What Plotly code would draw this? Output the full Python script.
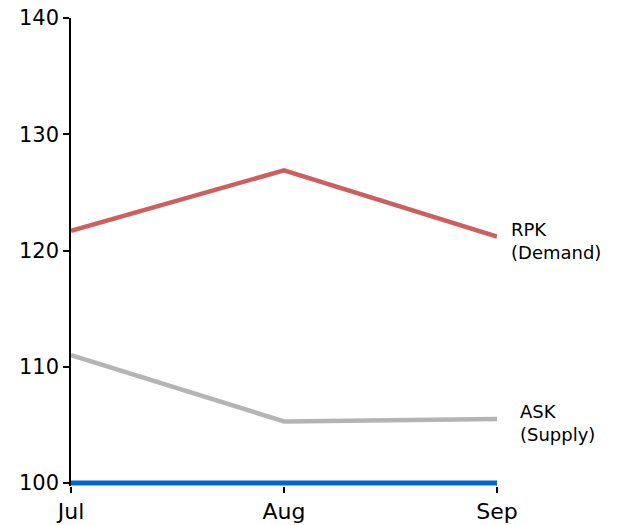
import plotly.graph_objects as go

months = ["Jul", "Aug", "Sep"]
rpk_demand = [121.7, 126.9, 121.2]
ask_supply = [111.0, 105.3, 105.5]
baseline = [100, 100, 100]
y_ticks = [100, 110, 120, 130, 140]

fig = go.Figure()
fig.add_trace(go.Scatter(x=months, y=baseline, mode="lines",
                         line=dict(color="#0066cc", width=5), cliponaxis=False))
fig.add_trace(go.Scatter(x=months, y=rpk_demand, mode="lines",
                         line=dict(color="#cd5f5f", width=4.5), cliponaxis=False))
fig.add_trace(go.Scatter(x=months, y=ask_supply, mode="lines",
                         line=dict(color="#b4b4b4", width=4.5), cliponaxis=False))

fig.add_annotation(x="Sep", y=120.8, xref="x", yref="y", text="RPK<br>(Demand)",
                   showarrow=False, xanchor="left", align="left", xshift=12,
                   font=dict(size=18, color="#000000"))
fig.add_annotation(x="Sep", y=105.2, xref="x", yref="y", text="ASK<br>(Supply)",
                   showarrow=False, xanchor="left", align="left", xshift=21,
                   font=dict(size=18, color="#000000"))

# the y range dips a little below 100 so the thick baseline is not clipped
fig.update_layout(
    width=619, height=525,
    margin=dict(l=71, r=122, t=18, b=39),
    plot_bgcolor="white", paper_bgcolor="white",
    showlegend=False,
    font=dict(family="DejaVu Sans", color="#000000"),
)
fig.update_xaxes(range=[0, 2], showline=False, automargin=False,
                 ticks="outside", ticklen=6, tickcolor="#000000", tickwidth=1.5,
                 showgrid=False, zeroline=False, tickfont=dict(size=22))
fig.update_yaxes(range=[100 - 3 * 40 / 465, 140], tickvals=y_ticks, showline=True,
                 linecolor="#000000", linewidth=1.5, ticks="outside", ticklen=6,
                 tickcolor="#000000", tickwidth=1.5, showgrid=False, zeroline=False,
                 automargin=False, tickfont=dict(size=21))

fig.write_html("out.html")
